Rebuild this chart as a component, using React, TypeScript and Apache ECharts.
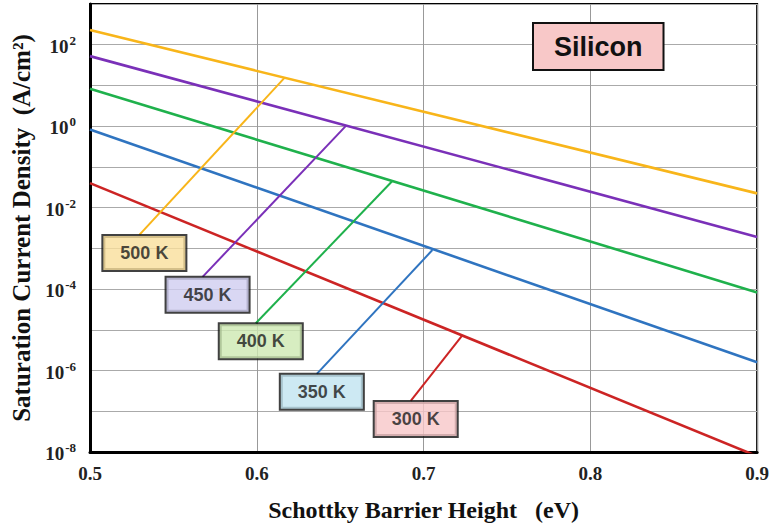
import React, { useEffect, useRef } from "react";
import * as echarts from "echarts";

// Barrier heights at the plot's ends (eV)
const xEnds = [0.5, 0.9];
const temps = ["500 K", "450 K", "400 K", "350 K", "300 K"];
// Saturation current density (A/cm^2) at 0.5 eV and 0.9 eV
const j500 = [229, 0.0224];
const j450 = [52.5, 0.0019];
const j400 = [8.3, 8.3e-5];
const j350 = [0.83, 1.6e-6];
const j300 = [0.04, 7.9e-9];
// Leader lines: [point on curve], [point at label]
const lead500 = [[0.6166, 15.3], [0.5296, 0.00214]];
const lead450 = [[0.6533, 1.0], [0.5675, 2.0e-4]];
const lead400 = [[0.681, 0.0437], [0.5994, 1.45e-5]];
const lead350 = [[0.7053, 9.1e-4], [0.636, 8.3e-7]];
const lead300 = [[0.723, 7.1e-6], [0.6923, 1.8e-7]];
const xTicks = [0.5, 0.6, 0.7, 0.8, 0.9];

const colors = ["#f8b51a", "#7a30b8", "#1fb14c", "#2f74c0", "#cc2424"];
const fills = ["#f9de9b", "#cfcdf0", "#cde9b1", "#c0e3f0", "#f8c7c8"];

export default function App() {
  const ref = useRef<HTMLDivElement>(null);
  useEffect(() => {
    const chart = echarts.init(ref.current!, null, { renderer: "svg" });
    const curves = [j500, j450, j400, j350, j300];
    const leads = [lead500, lead450, lead400, lead350, lead300];
    const series: any[] = [];
    curves.forEach((c, i) => {
      series.push({
        type: "line",
        name: temps[i],
        data: xEnds.map((x, k) => [x, c[k]]),
        symbol: "none",
        clip: true,
        lineStyle: { color: colors[i], width: 2.6 },
      });
    });
    leads.forEach((l, i) => {
      series.push({
        type: "line",
        data: l,
        symbol: "none",
        lineStyle: { color: colors[i], width: 2 },
      });
    });
    series.push({
      type: "scatter",
      symbolSize: 0,
      z: 10,
      data: leads.map((l, i) => ({
        value: l[1],
        label: {
          show: true,
          formatter: temps[i],
          position: "bottom",
          distance: 1,
          offset: [5, 0],
          fontFamily: "Liberation Sans",
          fontWeight: "bold",
          fontSize: 18,
          lineHeight: 20,
          color: "#1a1a1a",
          backgroundColor: fills[i],
          borderColor: "#111",
          borderWidth: 2,
          borderRadius: 0,
          padding: [7, 17, 7, 17],
        },
      })),
    });

    const serif = "'Liberation Serif', 'Times New Roman', serif";
    chart.setOption({
      animation: false,
      backgroundColor: "#fff",
      grid: {
        left: 90,
        right: 7,
        top: 4,
        bottom: 74,
        show: true,
        borderColor: "#000",
        borderWidth: 2,
      },
      xAxis: {
        type: "value",
        min: 0.5,
        max: 0.9,
        interval: 0.1,
        name: "Schottky Barrier Height   (eV)",
        nameLocation: "middle",
        nameGap: 46,
        nameTextStyle: {
          fontFamily: serif,
          fontWeight: "bold",
          fontSize: 24,
          color: "#111",
        },
        axisLine: { show: true, lineStyle: { color: "#000", width: 3 } },
        axisTick: { show: false },
        axisLabel: {
          fontFamily: serif,
          fontWeight: "bold",
          fontSize: 19,
          color: "#222",
          margin: 12,
          formatter: (v: number) => {
            const t = xTicks.find((x) => Math.abs(x - v) < 1e-6);
            return t === undefined ? "" : t.toFixed(1);
          },
        },
        splitLine: { show: true, lineStyle: { color: "#999", width: 1 } },
      },
      yAxis: {
        type: "log",
        logBase: 10,
        min: 1e-8,
        max: 1e3,
        interval: 1,
        name: "Saturation Current Density  (A/cm²)",
        nameLocation: "middle",
        nameGap: 55,
        nameTextStyle: {
          fontFamily: serif,
          fontWeight: "bold",
          fontSize: 25,
          color: "#111",
        },
        axisLine: { show: true, lineStyle: { color: "#000", width: 3 } },
        axisTick: { show: false },
        axisLabel: {
          margin: 14,
          formatter: (v: number) => {
            const e = Math.round(Math.log10(v));
            if (e % 2 !== 0 || e > 2) return "";
            return "{b|10}{s|" + e + "}";
          },
          rich: {
            b: {
              fontFamily: serif,
              fontWeight: "bold",
              fontSize: 19,
              color: "#222",
              verticalAlign: "bottom",
              lineHeight: 22,
            },
            s: {
              fontFamily: serif,
              fontWeight: "bold",
              fontSize: 13,
              color: "#222",
              verticalAlign: "top",
              lineHeight: 22,
              padding: [0, 0, 9, 1],
            },
          },
        },
        splitLine: { show: true, lineStyle: { color: "#aaa", width: 1 } },
      },
      graphic: [
        {
          type: "text",
          left: 532,
          top: 22,
          z: 20,
          style: {
            text: "Silicon",
            fontFamily: "Liberation Sans",
            fontWeight: "bold",
            fontSize: 27,
            fill: "#111",
            backgroundColor: "#f8c8c8",
            borderColor: "#111",
            borderWidth: 2,
            padding: [8, 20, 8, 20],
            lineHeight: 29,
          },
        },
      ],
      series,
    });
    return () => chart.dispose();
  }, []);
  return (
    <div
      ref={ref}
      style={{ position: "fixed", left: 0, top: 0, width: 772, height: 527 }}
    />
  );
}
